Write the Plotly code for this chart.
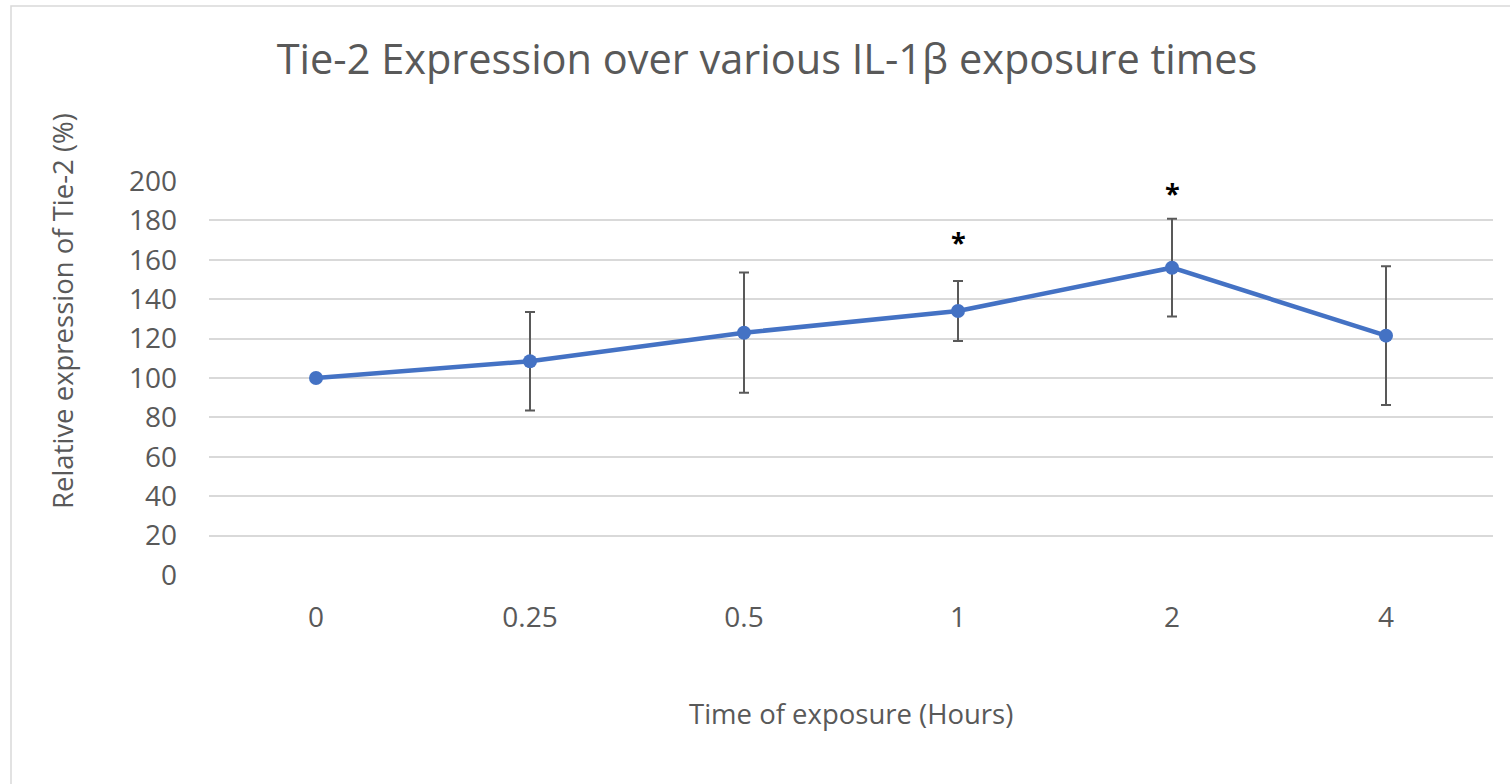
import plotly.graph_objects as go

categories = ["0", "0.25", "0.5", "1", "2", "4"]
expression = [100, 108.5, 123, 134, 156, 121.5]
error_sd = [0, 25, 30.5, 15.2, 24.8, 35.2]
significant = ["", "", "", "*", "*", ""]
marker_level = [None, None, None, 169.5, 194, None]
y_ticks = [0, 20, 40, 60, 80, 100, 120, 140, 160, 180, 200]

FONT = "Open Sans"
GRAY = "#595959"
x_idx = list(range(len(categories)))

fig = go.Figure()
fig.add_trace(go.Scatter(
    x=x_idx, y=expression, mode="lines+markers",
    line=dict(color="#4472C4", width=4.5),
    marker=dict(color="#4472C4", size=14),
    error_y=dict(type="data", array=error_sd, visible=True,
                 color=GRAY, thickness=2, width=5),
    showlegend=False, hoverinfo="skip",
))

for i, s in enumerate(significant):
    if s:
        fig.add_annotation(x=x_idx[i], y=marker_level[i], text="<b>*</b>",
                           showarrow=False, yanchor="middle",
                           font=dict(size=27, color="black", family=FONT))

fig.update_layout(
    width=1510, height=784,
    margin=dict(l=209, r=17, t=181, b=209),
    paper_bgcolor="white", plot_bgcolor="white",
    font=dict(family=FONT, color=GRAY),
    title=dict(text="Tie-2 Expression over various IL-1β exposure times",
               x=767/1510, xanchor="center", y=1-59/784, yanchor="middle",
               font=dict(size=41.5, color=GRAY, family=FONT)),
    xaxis=dict(tickvals=x_idx, ticktext=categories, range=[-0.5, 5.5],
               showgrid=False, zeroline=False, showline=False,
               ticks="", ticklabelstandoff=23,
               tickfont=dict(size=28, color=GRAY)),
    yaxis=dict(tickvals=y_ticks, range=[0, 200], showgrid=True,
               gridcolor="#d9d9d9", gridwidth=1.5, zeroline=False, showline=False,
               ticks="", ticklabelstandoff=31,
               tickfont=dict(size=28, color=GRAY)),
    shapes=[dict(type="rect", xref="paper", yref="paper",
                 x0=-198/1284, x1=1.5, y0=-1, y1=1 + 175/394,
                 line=dict(color="#d9d9d9", width=1.5), layer="below")],
)

fig.add_annotation(xref="paper", yref="paper", x=(851-209)/1284, y=-(713-575)/394,
                   text="Time of exposure (Hours)", showarrow=False,
                   xanchor="center", yanchor="middle",
                   font=dict(size=27.5, color=GRAY, family=FONT))
fig.add_annotation(xref="paper", yref="paper", x=-(209-62)/1284, y=(575-311)/394,
                   text="Relative expression of Tie-2 (%)", showarrow=False, textangle=-90,
                   xanchor="center", yanchor="middle",
                   font=dict(size=27.5, color=GRAY, family=FONT))

fig.write_html("out.html")
